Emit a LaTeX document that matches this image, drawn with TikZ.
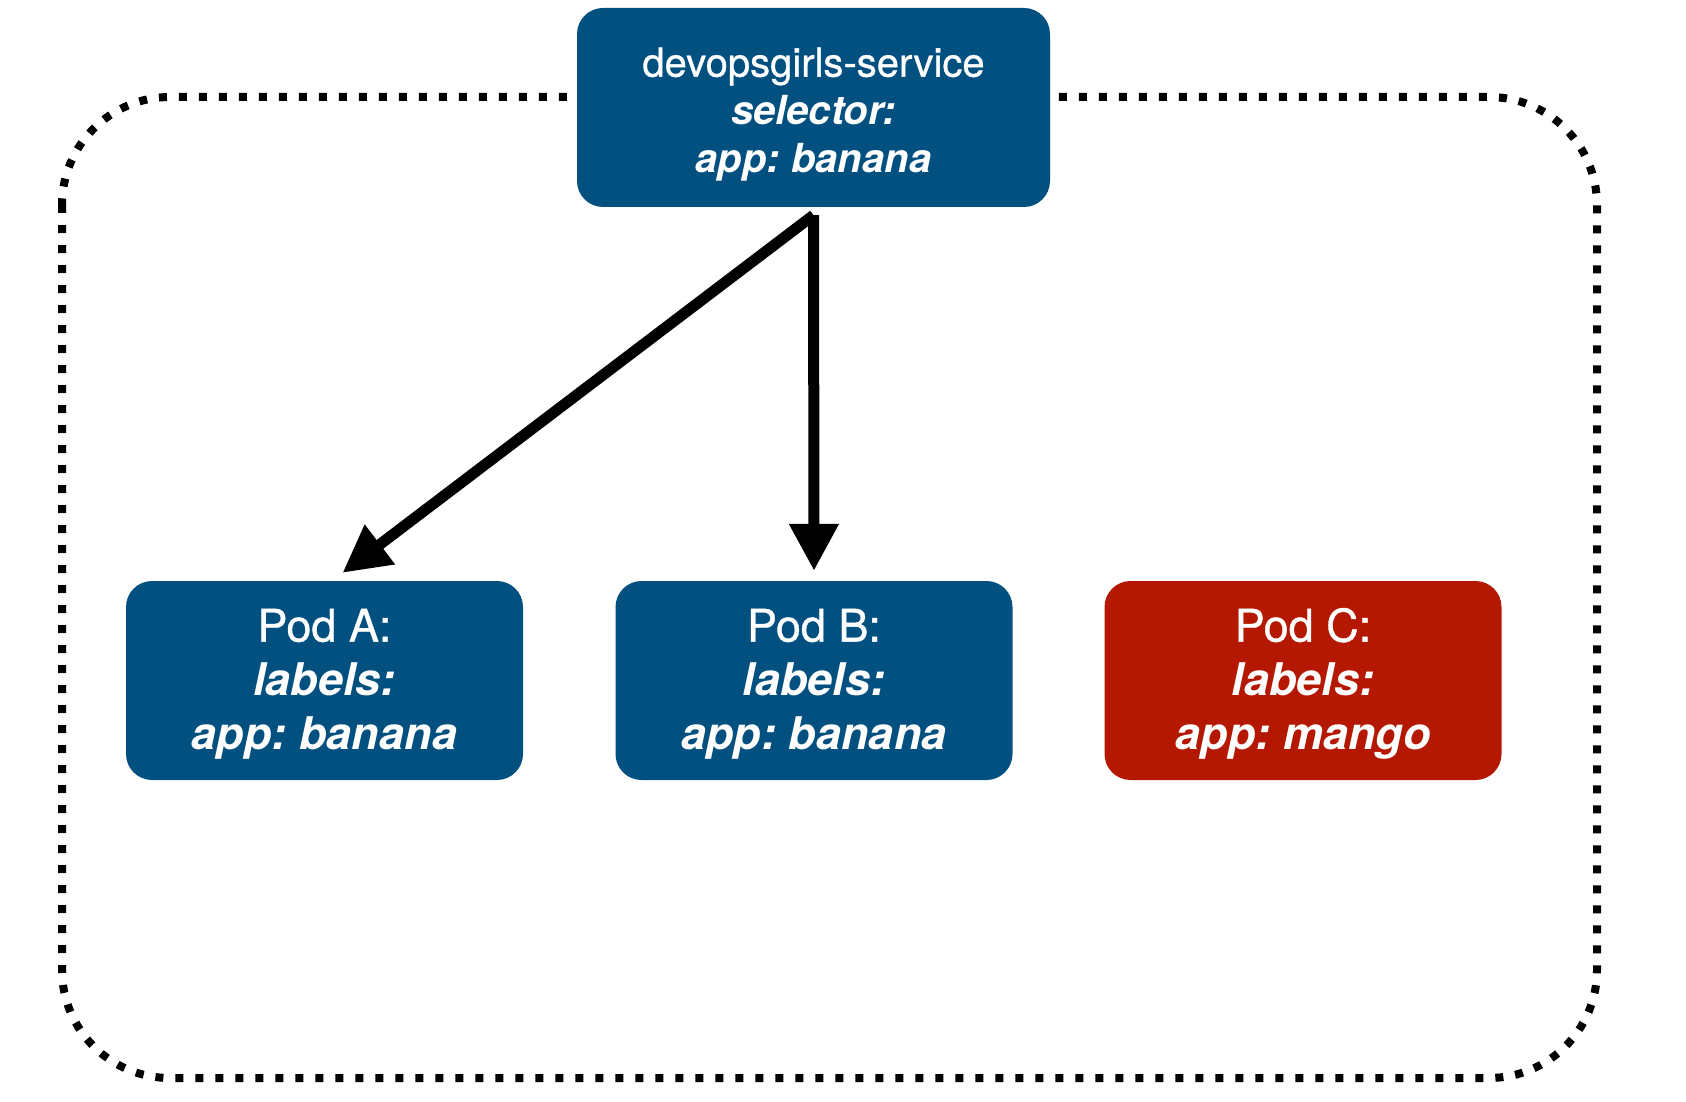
\documentclass[tikz,border=0pt]{standalone}
\usepackage{fontspec}
\setmainfont{TeX Gyre Heros}
\newfontface\medfont{TeX Gyre Heros}[FakeBold=0.8]
\usetikzlibrary{arrows.meta}
\definecolor{podblue}{HTML}{02507F}
\definecolor{podred}{HTML}{B41800}
\frenchspacing

\begin{document}
\begin{tikzpicture}[x=1pt,y=-1pt,
    box/.style ={rectangle, rounded corners=26pt, text=white, align=center, inner sep=0pt},
    servicebox/.style ={box, fill=podblue, minimum width=473pt, minimum height=199pt, font=\fontsize{40}{48}\selectfont},
    podbox/.style ={box, minimum width=397pt, minimum height=199pt, font=\fontsize{45}{54}\selectfont},
    link/.style ={line width=11pt, -{Triangle[length=47pt,width=47pt]}}]
   \useasboundingbox (0,0) rectangle (1686,1102);
   \draw[line width=8pt, dash pattern=on 8pt off 12pt, rounded corners=108pt] (62,97) rectangle (1597,1078);

   \node[servicebox] (S) at (813.5,107.5) {\rule{0pt}{43pt}{\medfont devopsgirls-service}\\\textbf{\textit{selector:}}\\\textbf{\textit{app: banana}}};
   \node[podbox,fill=podblue] (A) at (324.5,680.5) {\rule{0pt}{40pt}{\medfont Pod A:}\\\textbf{\textit{labels:}}\\\textbf{\textit{app: banana}}};
   \node[podbox,fill=podblue] (B) at (814,680.5) {\rule{0pt}{40pt}{\medfont Pod B:}\\\textbf{\textit{labels:}}\\\textbf{\textit{app: banana}}};
   \node[podbox,fill=podred] (C) at (1303,680.5) {\rule{0pt}{40pt}{\medfont Pod C:}\\\textbf{\textit{labels:}}\\\textbf{\textit{app: mango}}};

   \draw[link] ([yshift=-8pt]S.south) to ([xshift=18pt,yshift=8pt]A.north);
   \draw[link] ([yshift=-8pt]S.south) to ([yshift=10pt]B.north);
 \end{tikzpicture}
\end{document}
